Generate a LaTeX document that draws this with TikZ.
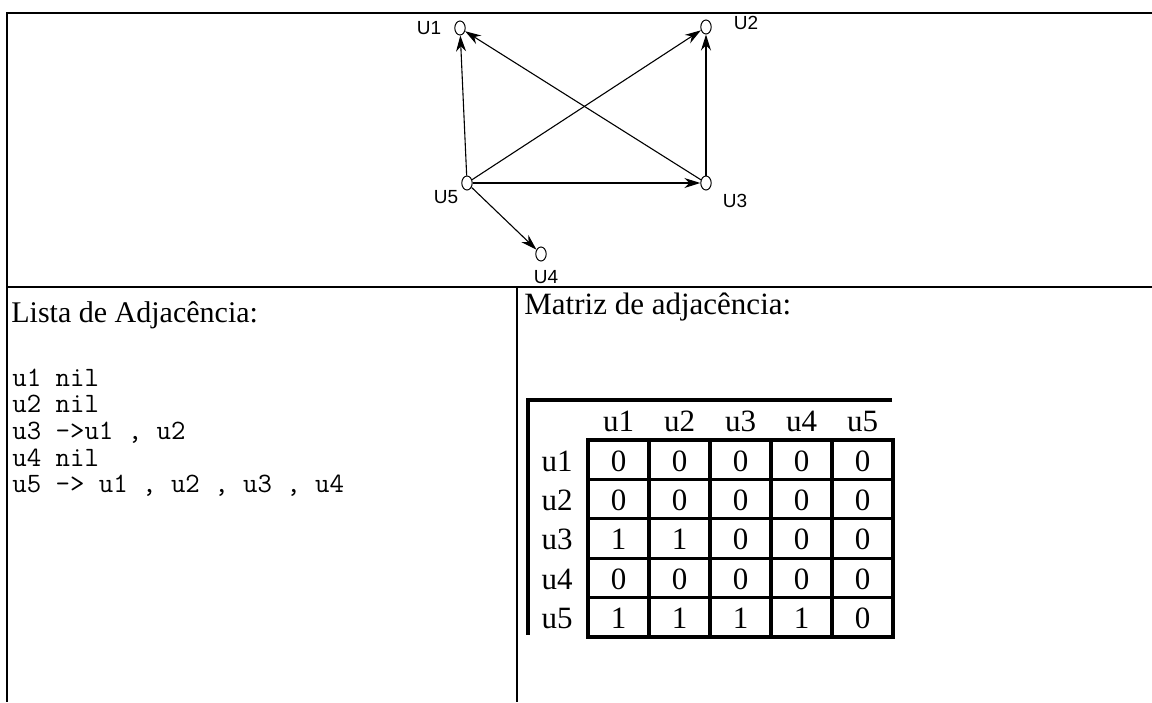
\documentclass[tikz,border=0pt]{standalone}
\usepackage{fontspec}
\setmainfont{Liberation Serif}
\newfontfamily\graphfont{Liberation Sans}
\usetikzlibrary{arrows.meta,shapes.geometric}
\tikzset{
  vertex/.style={draw,ellipse,inner sep=0pt,minimum width=5.2pt,minimum height=7pt,line width=0.5pt},
  vname/.style={font=\graphfont\fontsize{9.5}{11}\selectfont,inner sep=0pt},
  arc/.style={line width=0.55pt,-{Stealth[length=8pt,width=5pt]}},
  frameline/.style={line width=1.15pt},
  gridline/.style={line width=1.6pt},
  titletext/.style={inner sep=0pt,anchor=base west},
  listtext/.style={font=\ttfamily\fontsize{14}{15}\selectfont,inner sep=0pt,anchor=base west},
  celltext/.style={font=\fontsize{15.5}{17}\selectfont,inner sep=0pt,anchor=base}
}
\newcommand{\adjrow}[3]{%
  \node[celltext] (r#1) at (557,{440+39.4*(#1-1)+31}) {#2};%
  \foreach \v [count=\k] in {#3}{%
    \node[celltext] (c#1\k) at ({588+61*(\k-0.5)},{440+39.4*(#1-1)+31}) {\v};%
  }%
}

\begin{document}
\begin{tikzpicture}[x=0.5pt,y=-0.5pt]
  \useasboundingbox (0,0) rectangle (1152,702);
  \draw[frameline] (1152,13) -- (7,13) -- (7,702);
  \draw[frameline] (7,287) -- (1152,287);
  \draw[frameline] (517,287) -- (517,702);
  \node[vertex] (u1) at (460,28) {};
  \node[vertex] (u2) at (706,27) {};
  \node[vertex] (u3) at (706,183) {};
  \node[vertex] (u4) at (541,254) {};
  \node[vertex] (u5) at (467,183) {};
  \node[vname] (n1) at (429,28) {U1};
  \node[vname] (n2) at (746,23) {U2};
  \node[vname] (n3) at (735,201) {U3};
  \node[vname] (n4) at (546,277) {U4};
  \node[vname] (n5) at (446,197) {U5};
  \draw[arc] (u5) -- (u1);
  \draw[arc] (u3) -- (u1);
  \draw[arc] (u5) -- (u2);
  \draw[arc] (u3) -- (u2);
  \draw[arc] (u5) -- (u3);
  \draw[arc] (u5) -- (u4);
  \node[titletext,font=\fontsize{15}{18}\selectfont] (lista) at (11,322) {Lista de Adjacência:};
  \node[titletext,font=\fontsize{15.5}{18}\selectfont] (matriz) at (524,314) {Matriz de adjacência:};
  \foreach \t [count=\i] in {{u1 nil},{u2 nil},{u3 ->u1 , u2},{u4 nil},{u5 -> u1 , u2 , u3 , u4}}
    \node[listtext] (l\i) at (12,{386+26.7*(\i-1)}) {\t};
  \draw[gridline] (892,400) -- (528,400) -- (528,635);
  \draw[gridline] (588,440) rectangle (893,637);
  \foreach \k in {1,...,4} \draw[gridline] ({588+61*\k},440) -- ({588+61*\k},637);
  \foreach \k in {1,...,4} \draw[gridline] (588,{440+39.4*\k}) -- (893,{440+39.4*\k});
  \foreach \k in {1,...,5} \node[celltext] (h\k) at ({588+61*(\k-0.5)},431) {u\k};
  \adjrow{1}{u1}{0,0,0,0,0}
  \adjrow{2}{u2}{0,0,0,0,0}
  \adjrow{3}{u3}{1,1,0,0,0}
  \adjrow{4}{u4}{0,0,0,0,0}
  \adjrow{5}{u5}{1,1,1,1,0}
\end{tikzpicture}
\end{document}
